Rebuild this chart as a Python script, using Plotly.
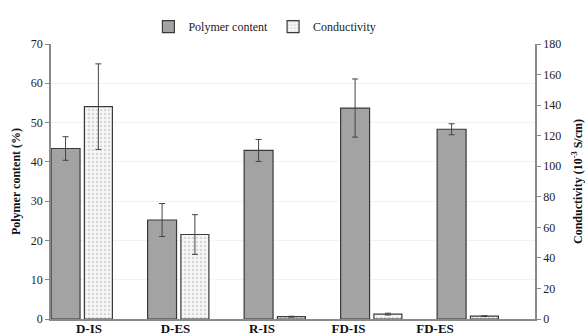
import plotly.graph_objects as go

categories = ["D-IS", "D-ES", "R-IS", "FD-IS", "FD-ES"]
polymer = [43.4, 25.2, 42.9, 53.7, 48.3]
polymer_err = [3.0, 4.2, 2.8, 7.4, 1.4]
conductivity = [139, 55.3, 1.5, 3.2, 1.9]
conductivity_err = [28, 13, 0.3, 0.6, 0.3]
left_ticks = [0, 10, 20, 30, 40, 50, 60, 70]
right_ticks = [0, 20, 40, 60, 80, 100, 120, 140, 160, 180]

FONT = "Liberation Serif"
xs = list(range(len(categories)))

fig = go.Figure()
fig.add_trace(go.Bar(
    x=xs, y=polymer, name="Polymer content", width=0.30, offset=-0.325,
    marker=dict(color="#a3a3a3", line=dict(color="#3a3a3a", width=1.2)),
    error_y=dict(type="data", array=polymer_err, color="#444444", thickness=1, width=3),
    yaxis="y", xaxis="x",
))
fig.add_trace(go.Bar(
    x=xs, y=conductivity, name="Conductivity", width=0.29, offset=0.02,
    marker=dict(color="white", line=dict(color="#3a3a3a", width=1.2),
                pattern=dict(shape=".", fgcolor="#b8b8b8", bgcolor="#f7f7f7", size=4, solidity=0.3)),
    error_y=dict(type="data", array=conductivity_err, color="#444444", thickness=1, width=3),
    yaxis="y2", xaxis="x",
))
# carrier for the category labels axis
fig.add_trace(go.Scatter(x=xs, y=[None] * len(xs), xaxis="x2", yaxis="y",
                         mode="markers", showlegend=False, hoverinfo="skip"))

fig.update_layout(
    width=585, height=335,
    margin=dict(l=51, r=50, t=35, b=16),
    paper_bgcolor="white", plot_bgcolor="white",
    font=dict(family=FONT, size=12, color="#222222"),
    showlegend=True,
    legend=dict(orientation="h", x=0.442, xanchor="center", y=1.063, yanchor="middle",
                font=dict(family=FONT, size=12, color="#222222"),
                traceorder="normal", bgcolor="rgba(0,0,0,0)", tracegroupgap=0),
    xaxis=dict(range=[-0.326, 4.689], showticklabels=False, ticks="",
               showline=True, linecolor="#8a8a8a", linewidth=1.5, showgrid=False,
               zeroline=False, fixedrange=True, automargin=False),
    xaxis2=dict(overlaying="x", anchor="y", side="bottom", range=[-0.439, 5.156],
                tickmode="array", tickvals=xs, ticktext=categories, ticks="",
                showline=False, showgrid=False, zeroline=False, automargin=False,
                tickfont=dict(family=FONT, size=13, color="#111111", weight="bold")),
    yaxis=dict(range=[0, 70], tickmode="array", tickvals=left_ticks,
               ticks="outside", ticklen=4, tickcolor="#8a8a8a",
               showline=True, linecolor="#8a8a8a", linewidth=1.5,
               showgrid=True, gridcolor="#f2f2f2", zeroline=False, automargin=False,
               tickfont=dict(family=FONT, size=12, color="#222222"),
               title=dict(text="<b>Polymer content (%)</b>", font=dict(family=FONT, size=12, color="#111111"),
                          standoff=8)),
    yaxis2=dict(range=[0, 180], overlaying="y", side="right", tickmode="array", tickvals=right_ticks,
                ticks="outside", ticklen=4, tickcolor="#8a8a8a",
                showline=True, linecolor="#8a8a8a", linewidth=1.5,
                showgrid=False, zeroline=False, automargin=False,
                tickfont=dict(family=FONT, size=12, color="#222222"),
                title=dict(text="<b>Conductivity (10<sup>-3</sup> S/cm)</b>",
                           font=dict(family=FONT, size=12, color="#111111"), standoff=25)),
)

fig.write_html("out.html")
